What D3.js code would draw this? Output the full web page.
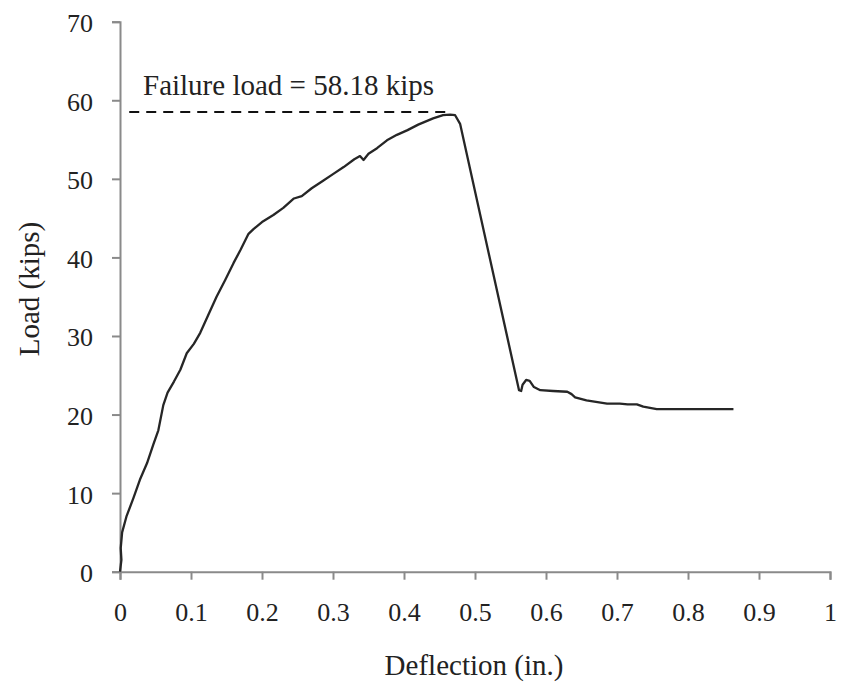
<!DOCTYPE html>
<html>
<head>
<meta charset="utf-8">
<script src="https://cdn.jsdelivr.net/npm/d3@7"></script>
<style>
  body { margin: 0; background: #fff; }
  svg text { font-family: "Liberation Serif", "Times New Roman", serif; fill: #222; }
  .axis path, .axis line { stroke: #8a8a8a; stroke-width: 2; }
</style>
</head>
<body>
<svg id="chart" width="844" height="686"></svg>
<script>
// load vs deflection test curve

const deflection = [
  0.000, 0.002, 0.001, 0.003, 0.009, 0.019, 0.028, 0.038, 0.047, 0.054,
  0.061, 0.067, 0.076, 0.085, 0.094, 0.104, 0.113, 0.124, 0.136, 0.148,
  0.160, 0.170, 0.181, 0.188, 0.200, 0.216, 0.230, 0.245, 0.256, 0.270,
  0.285, 0.300, 0.315, 0.330, 0.338, 0.343, 0.350, 0.362, 0.376, 0.390,
  0.405, 0.420, 0.441, 0.455, 0.465, 0.472, 0.479, 0.562, 0.565, 0.567,
  0.572, 0.577, 0.583, 0.592, 0.610, 0.630, 0.636, 0.641, 0.657, 0.686,
  0.704, 0.715, 0.728, 0.737, 0.756, 0.864
];
const load = [
  0.0, 1.5, 3.0, 5.0, 7.0, 9.4, 11.7, 13.8, 16.2, 18.0,
  21.2, 22.8, 24.2, 25.7, 27.8, 29.0, 30.4, 32.6, 35.0, 37.1,
  39.3, 41.0, 43.0, 43.6, 44.5, 45.4, 46.3, 47.5, 47.8, 48.8,
  49.7, 50.6, 51.5, 52.5, 52.9, 52.4, 53.2, 53.9, 54.9, 55.6,
  56.2, 56.9, 57.7, 58.1, 58.18, 58.1, 57.0, 23.1, 23.0, 23.8,
  24.4, 24.3, 23.5, 23.1, 23.0, 22.9, 22.6, 22.2, 21.8, 21.4,
  21.4, 21.3, 21.3, 21.0, 20.7, 20.7
];

const xTicks = [0, 0.1, 0.2, 0.3, 0.4, 0.5, 0.6, 0.7, 0.8, 0.9, 1];
const yTicks = [0, 10, 20, 30, 40, 50, 60, 70];

const failureLoad = 58.18;
const failureLabel = "Failure load = 58.18 kips";
const dashStart = 0.013;
const dashEnd = 0.462;

const svg = d3.select("#chart");

const x = d3.scaleLinear().domain([0, 1]).range([120, 830]);
const y = d3.scaleLinear().domain([0, 70]).range([571.7, 21.7]);

// axes
const xAxis = svg.append("g")
  .attr("class", "axis")
  .attr("transform", `translate(0,${y(0)})`)
  .call(d3.axisBottom(x).tickValues(xTicks).tickSizeOuter(0).tickSize(8).tickFormat(d3.format("")));
xAxis.selectAll("text")
  .attr("font-size", 26)
  .attr("dy", "0")
  .attr("y", 49.5);

const yAxis = svg.append("g")
  .attr("class", "axis")
  .attr("transform", `translate(${x(0)},0)`)
  .call(d3.axisLeft(y).tickValues(yTicks).tickSizeOuter(0).tickSize(8));
yAxis.selectAll("text")
  .attr("font-size", 26)
  .attr("x", -27)
  .attr("dy", "0.38em");

svg.selectAll(".axis text").style("fill", "#222");

// curve
const line = d3.line()
  .x((d, i) => x(deflection[i]))
  .y((d, i) => y(load[i]));

svg.append("path")
  .datum(load)
  .attr("d", line)
  .attr("fill", "none")
  .attr("stroke", "#262626")
  .attr("stroke-width", 2.3)
  .attr("stroke-linejoin", "round");

// failure load marker
svg.append("line")
  .attr("x1", x(dashStart))
  .attr("x2", x(dashEnd))
  .attr("y1", y(failureLoad) - 2.5)
  .attr("y2", y(failureLoad) - 2.5)
  .attr("stroke", "#111")
  .attr("stroke-width", 2)
  .attr("stroke-dasharray", "10,7");

svg.append("text")
  .attr("x", 143)
  .attr("y", 95)
  .attr("font-size", 29)
  .text(failureLabel);

// axis titles
svg.append("text")
  .attr("x", 474)
  .attr("y", 675)
  .attr("text-anchor", "middle")
  .attr("font-size", 29)
  .text("Deflection (in.)");

svg.append("text")
  .attr("transform", "translate(39,289) rotate(-90)")
  .attr("text-anchor", "middle")
  .attr("font-size", 29)
  .text("Load (kips)");
</script>
</body>
</html>
